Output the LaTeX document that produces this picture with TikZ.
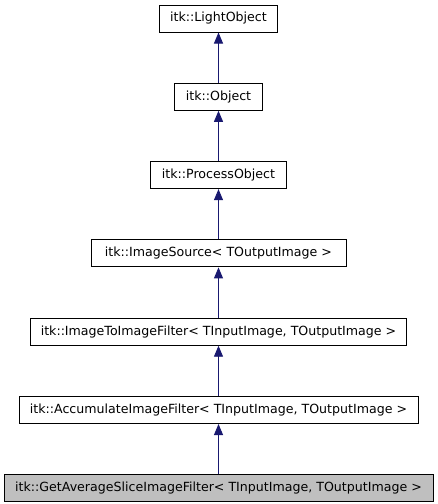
\documentclass[tikz,border=0pt]{standalone}
\usepackage{fontspec}
\setmainfont{DejaVu Sans}
\usetikzlibrary{arrows.meta,positioning}

\definecolor{edgeblue}{HTML}{191970}
\definecolor{curgray}{HTML}{BFBFBF}

\begin{document}
\begin{tikzpicture}[
      x=1pt, y=-1pt,
      node distance=50.3pt,
      every node/.style={font=\fontsize{12.6}{15}\selectfont},
      cls/.style={rectangle, draw, line width=1pt, fill=white,
            minimum height=27pt, inner xsep=4pt, inner ysep=0pt},
      current/.style={cls, fill=curgray},
      inherit/.style={-{Triangle[length=11pt,width=9pt]}, draw=edgeblue,
            fill=edgeblue, line width=0.9pt}
]
\useasboundingbox (0,0) rectangle (437,504);

\node[cls, minimum width=118pt] (light) at (218.5,18.5) {itk::LightObject};
\node[cls, minimum width=88pt, below=of light] (object) {itk::Object};
\node[cls, minimum width=136pt, below=of object] (process) {itk::ProcessObject};
\node[cls, minimum width=255pt, below=of process] (source)
      {itk::ImageSource< TOutputImage >};
\node[cls, minimum width=376pt, below=of source] (imgtoimg)
      {itk::ImageToImageFilter< TInputImage, TOutputImage >};
\node[cls, minimum width=399pt, below=of imgtoimg] (accum)
      {itk::AccumulateImageFilter< TInputImage, TOutputImage >};
\node[current, minimum width=429pt, below=of accum] (avgslice)
      {itk::GetAverageSliceImageFilter< TInputImage, TOutputImage >};

\draw[inherit] (object) -- (light);
\draw[inherit] (process) -- (object);
\draw[inherit] (source) -- (process);
\draw[inherit] (imgtoimg) -- (source);
\draw[inherit] (accum) -- (imgtoimg);
\draw[inherit] (avgslice) -- (accum);
\end{tikzpicture}
\end{document}
